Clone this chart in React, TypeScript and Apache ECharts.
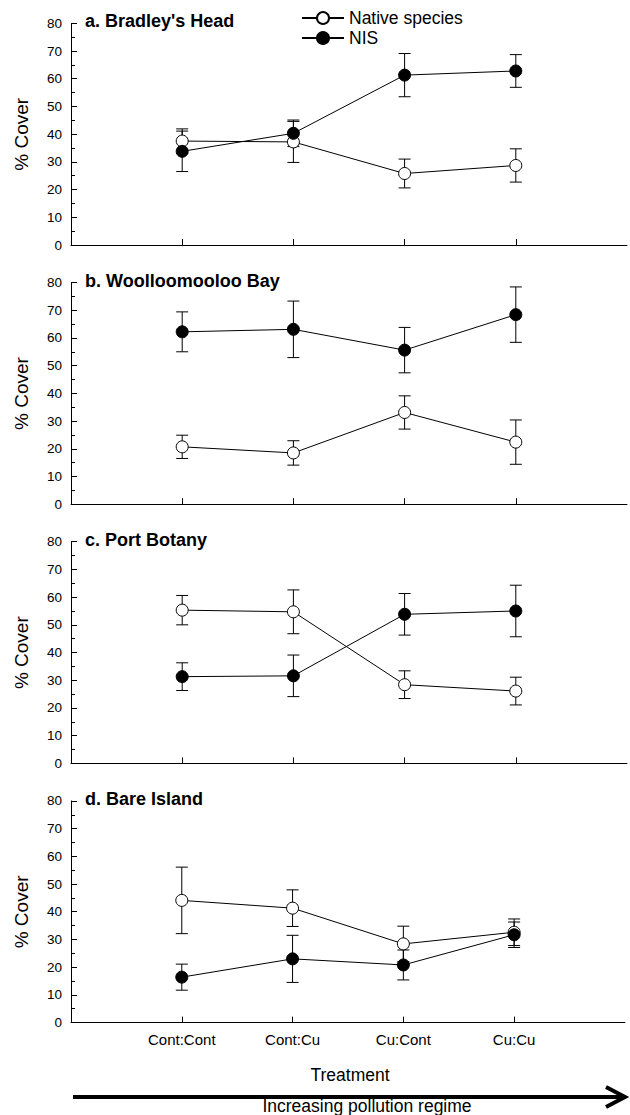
import React, { useEffect, useRef } from 'react';
import * as echarts from 'echarts';

const treatments = ['Cont:Cont', 'Cont:Cu', 'Cu:Cont', 'Cu:Cu'];
const panelTitles = ["a. Bradley's Head", 'b. Woolloomooloo Bay', 'c. Port Botany', 'd. Bare Island'];
const seriesNames = ['Native species', 'NIS'];
const yTicks = [0, 10, 20, 30, 40, 50, 60, 70, 80];

// a. Bradley's Head
const bradleysNative = [37.5, 37.2, 25.8, 28.7];
const bradleysNativeSE = [4.4, 7.4, 5.2, 6.0];
const bradleysNIS = [33.8, 40.3, 61.3, 62.8];
const bradleysNISSE = [7.3, 4.8, 7.8, 5.9];
// b. Woolloomooloo Bay
const woolloomoolooNative = [20.7, 18.5, 33.1, 22.4];
const woolloomoolooNativeSE = [4.2, 4.4, 6.0, 8.0];
const woolloomoolooNIS = [62.2, 63.1, 55.6, 68.4];
const woolloomoolooNISSE = [7.2, 10.2, 8.2, 10.0];
// c. Port Botany
const botanyNative = [55.3, 54.7, 28.4, 26.1];
const botanyNativeSE = [5.3, 7.9, 5.0, 5.0];
const botanyNIS = [31.3, 31.6, 53.8, 55.0];
const botanyNISSE = [5.0, 7.5, 7.5, 9.3];
// d. Bare Island
const bareNative = [44.1, 41.3, 28.4, 32.6];
const bareNativeSE = [12.0, 6.6, 6.4, 4.8];
const bareNIS = [16.4, 23.0, 20.8, 31.7];
const bareNISSE = [4.7, 8.5, 5.4, 4.6];

const sites = [
  { native: bradleysNative, nativeSE: bradleysNativeSE, nis: bradleysNIS, nisSE: bradleysNISSE },
  { native: woolloomoolooNative, nativeSE: woolloomoolooNativeSE, nis: woolloomoolooNIS, nisSE: woolloomoolooNISSE },
  { native: botanyNative, nativeSE: botanyNativeSE, nis: botanyNIS, nisSE: botanyNISSE },
  { native: bareNative, nativeSE: bareNativeSE, nis: bareNIS, nisSE: bareNISSE },
];

const FONT = '"Liberation Sans", Arial, sans-serif';
const GRID_LEFT = 71;
const GRID_WIDTH = 556;
const GRID_TOP0 = 23.3;
const GRID_STEP = 259.2;
const GRID_H = 221.7;

function errorRender(params: any, api: any) {
  const x = api.value(0);
  const m = api.value(1);
  const e = api.value(2);
  const top = api.coord([x, m + e]);
  const bot = api.coord([x, m - e]);
  const hw = 6;
  const style = { stroke: '#000', lineWidth: 1 };
  return {
    type: 'group',
    children: [
      { type: 'line', shape: { x1: top[0], y1: top[1], x2: bot[0], y2: bot[1] }, style },
      { type: 'line', shape: { x1: top[0] - hw, y1: top[1], x2: top[0] + hw, y2: top[1] }, style },
      { type: 'line', shape: { x1: bot[0] - hw, y1: bot[1], x2: bot[0] + hw, y2: bot[1] }, style },
    ],
  };
}

export default function App() {
  const ref = useRef<HTMLDivElement>(null);
  useEffect(() => {
    if (!ref.current) return;
    const chart = echarts.init(ref.current, undefined, { renderer: 'svg' });
    const axisCats = [''].concat(treatments).concat([' ']);
    const grid: any[] = [];
    const xAxis: any[] = [];
    const yAxis: any[] = [];
    const series: any[] = [];
    const graphic: any[] = [];
    sites.forEach((s, k) => {
      const top = GRID_TOP0 + k * GRID_STEP;
      grid.push({ left: GRID_LEFT, width: GRID_WIDTH, top, height: GRID_H });
      xAxis.push({
        type: 'category',
        gridIndex: k,
        data: axisCats,
        boundaryGap: false,
        axisLine: { show: true, lineStyle: { color: '#000', width: 1 } },
        axisTick: {
          show: true,
          inside: true,
          length: 6,
          interval: (i: number) => i >= 1 && i <= 4,
          lineStyle: { color: '#000', width: 1 },
        },
        axisLabel: {
          show: k === 3,
          interval: 0,
          fontSize: 15,
          color: '#000',
          fontFamily: FONT,
          margin: 9,
        },
        splitLine: { show: false },
      });
      yAxis.push({
        type: 'value',
        gridIndex: k,
        min: yTicks[0],
        max: yTicks[yTicks.length - 1],
        interval: 10,
        axisLine: { show: true, lineStyle: { color: '#000', width: 1 } },
        axisTick: { show: true, inside: true, length: 6, lineStyle: { color: '#000', width: 1 } },
        minorTick: { show: true, splitNumber: 2, length: 4, lineStyle: { color: '#000', width: 1 } },
        axisLabel: { fontSize: 13.5, color: '#000', fontFamily: FONT, margin: 9 },
        splitLine: { show: false },
      });
      const groups = [
        { name: seriesNames[0], mean: s.native, se: s.nativeSE, fill: '#fff', z: 3 },
        { name: seriesNames[1], mean: s.nis, se: s.nisSE, fill: '#000', z: 4 },
      ];
      groups.forEach((g) => {
        series.push({
          type: 'custom',
          xAxisIndex: k,
          yAxisIndex: k,
          z: 1,
          silent: true,
          renderItem: errorRender,
          data: treatments.map((t, i) => [t, g.mean[i], g.se[i]]),
        });
      });
      groups.forEach((g) => {
        series.push({
          type: 'line',
          name: g.name,
          xAxisIndex: k,
          yAxisIndex: k,
          z: g.z,
          symbol: 'circle',
          symbolSize: 12,
          showAllSymbol: true,
          lineStyle: { color: '#000', width: 1 },
          itemStyle: { color: g.fill, borderColor: '#000', borderWidth: 1 },
          data: treatments.map((t, i) => [t, g.mean[i]]),
        });
      });
      graphic.push({
        type: 'text',
        x: 85,
        y: top - 2,
        style: {
          text: panelTitles[k],
          fill: '#000',
          fontSize: 18,
          fontWeight: 'bold',
          fontFamily: FONT,
          textAlign: 'left',
          textVerticalAlign: 'middle',
        },
      });
      graphic.push({
        type: 'text',
        x: 21,
        y: top + 111,
        rotation: Math.PI / 2,
        style: {
          text: '% Cover',
          fill: '#000',
          fontSize: 19,
          fontFamily: FONT,
          textAlign: 'center',
          textVerticalAlign: 'middle',
        },
      });
    });
    graphic.push({
      type: 'text',
      x: 350,
      y: 1075,
      style: { text: 'Treatment', fill: '#000', fontSize: 17.5, fontFamily: FONT, textAlign: 'center', textVerticalAlign: 'middle' },
    });
    graphic.push({
      type: 'line',
      shape: { x1: 73, y1: 1097, x2: 623, y2: 1097 },
      style: { stroke: '#000', lineWidth: 4 },
    });
    graphic.push({
      type: 'polyline',
      shape: { points: [[606, 1087], [625, 1097], [606, 1107]] },
      style: { stroke: '#000', lineWidth: 4, fill: 'none' },
    });
    graphic.push({
      type: 'text',
      x: 367,
      y: 1106,
      style: { text: 'Increasing pollution regime', fill: '#000', fontSize: 17.5, fontFamily: FONT, textAlign: 'center', textVerticalAlign: 'middle' },
    });

    chart.setOption({
      animation: false,
      backgroundColor: '#fff',
      legend: {
        data: seriesNames,
        orient: 'vertical',
        left: 296,
        top: 4,
        itemWidth: 42,
        itemHeight: 15,
        itemGap: 2,
        textStyle: { fontSize: 17.5, color: '#000', fontFamily: FONT },
      },
      grid,
      xAxis,
      yAxis,
      series,
      graphic,
    });
    return () => chart.dispose();
  }, []);
  return <div ref={ref} style={{ position: 'absolute', left: 0, top: 0, width: 630, height: 1115 }} />;
}
